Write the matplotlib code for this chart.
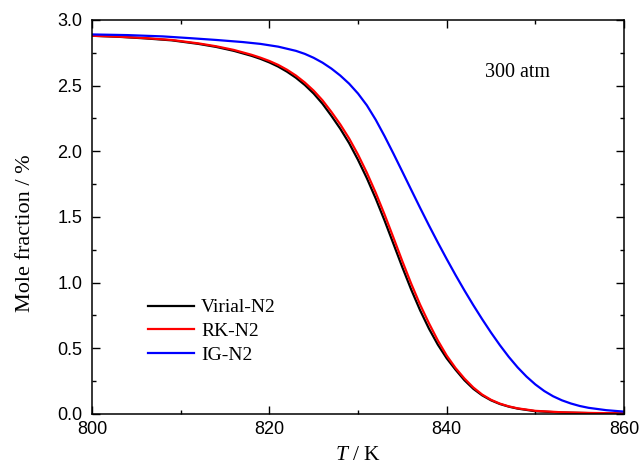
import matplotlib
matplotlib.use("Agg")
import matplotlib.pyplot as plt
from matplotlib.ticker import MultipleLocator, FormatStrFormatter

plt.rcParams["mathtext.fontset"] = "custom"
plt.rcParams["mathtext.it"] = "Liberation Serif:italic"
plt.rcParams["mathtext.rm"] = "Liberation Serif"

# temperature grid (K), virial / RK curves
temp = [800, 803, 806, 809, 812, 814, 816, 818, 819, 820, 821, 822, 823, 824,
        825, 826, 827, 828, 829, 830, 831, 832, 833, 834, 835, 836, 837, 838,
        839, 840, 841, 842, 843, 844, 845, 846, 847, 848, 850, 853, 856, 860]

# mole fraction (%)
virial_n2 = [2.880, 2.872, 2.860, 2.845, 2.818, 2.795, 2.765, 2.727, 2.704,
             2.677, 2.645, 2.606, 2.560, 2.505, 2.440, 2.362, 2.270, 2.172,
             2.062, 1.935, 1.795, 1.640, 1.472, 1.295, 1.117, 0.947, 0.790,
             0.650, 0.528, 0.424, 0.337, 0.257, 0.192, 0.142, 0.104, 0.076,
             0.056, 0.041, 0.021, 0.011, 0.007, 0.004]
rk_n2 = [2.880, 2.873, 2.862, 2.848, 2.822, 2.800, 2.772, 2.735, 2.713,
         2.688, 2.658, 2.621, 2.577, 2.524, 2.462, 2.388, 2.300, 2.205,
         2.098, 1.975, 1.837, 1.684, 1.518, 1.342, 1.163, 0.992, 0.833,
         0.691, 0.560, 0.445, 0.350, 0.270, 0.202, 0.148, 0.108, 0.079,
         0.058, 0.043, 0.024, 0.013, 0.008, 0.005]

# ideal gas curve
temp_ig = [800, 804, 808, 811, 814, 817, 819, 821, 823, 824, 825, 826, 827,
           828, 829, 830, 831, 832, 833, 834, 835, 836, 837, 838, 839, 840,
           841, 842, 843, 844, 845, 846, 847, 848, 849, 850, 851, 852, 853,
           854, 855, 856, 858, 860]
ig_n2 = [2.890, 2.885, 2.875, 2.862, 2.848, 2.832, 2.818, 2.797, 2.765, 2.742,
         2.712, 2.675, 2.630, 2.577, 2.515, 2.440, 2.350, 2.240, 2.115, 1.982,
         1.845, 1.707, 1.570, 1.436, 1.306, 1.180, 1.058, 0.941, 0.829,
         0.722, 0.620, 0.524, 0.435, 0.355, 0.285, 0.225, 0.175, 0.135,
         0.104, 0.080, 0.061, 0.047, 0.029, 0.018]

serif = "Liberation Serif"
sans = "Liberation Sans"

fig = plt.figure(figsize=(6.42, 4.65), dpi=100)
ax = fig.add_axes([0.1433, 0.1097, 0.8287, 0.8473])

ax.plot(temp, virial_n2, color="black", lw=1.6, label="Virial-N2")
ax.plot(temp, rk_n2, color="red", lw=1.6, label="RK-N2")
ax.plot(temp_ig, ig_n2, color="blue", lw=1.6, label="IG-N2")

ax.set_xlim(800, 860)
ax.set_ylim(0, 3.0)
ax.xaxis.set_major_locator(MultipleLocator(20))
ax.xaxis.set_minor_locator(MultipleLocator(10))
ax.yaxis.set_major_locator(MultipleLocator(0.5))
ax.yaxis.set_minor_locator(MultipleLocator(0.25))
ax.yaxis.set_major_formatter(FormatStrFormatter("%.1f"))

ax.tick_params(which="both", direction="in", top=True, right=True, width=1.0)
ax.tick_params(which="major", length=5.5, labelsize=13)
ax.tick_params(axis="x", which="major", pad=5)
ax.tick_params(axis="y", which="major", pad=7)
ax.tick_params(which="minor", length=3)
for lab in ax.get_xticklabels() + ax.get_yticklabels():
    lab.set_fontfamily(sans)
for sp in ax.spines.values():
    sp.set_linewidth(1.1)

ax.set_xlabel("$\\mathit{T}$ / K", fontsize=15.5, family=serif, labelpad=6)
ax.set_ylabel("Mole fraction / %", fontsize=16, family=serif)
ax.yaxis.set_label_coords(-0.107, 0.459)

ax.text(0.80, 0.855, "300 atm", transform=ax.transAxes, fontsize=14.5,
        family=serif, ha="center", va="baseline")

ax.legend(loc="center left", bbox_to_anchor=(0.105, 0.21), frameon=False,
          prop={"family": serif, "size": 14}, handlelength=2.37,
          handletextpad=0.36, labelspacing=0.31, borderpad=0,
          borderaxespad=0)

fig.savefig("out.png", dpi=100)
